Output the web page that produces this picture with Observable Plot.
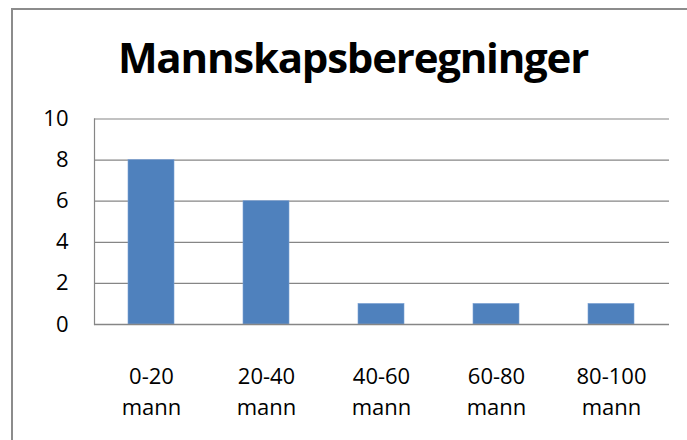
<!DOCTYPE html>
<html>
<head>
<meta charset="utf-8">
<script src="https://cdn.jsdelivr.net/npm/d3@7"></script>
<script src="https://cdn.jsdelivr.net/npm/@observablehq/plot@0.6"></script>
<style>
  html, body { margin: 0; padding: 0; width: 687px; height: 440px; overflow: hidden; background: #fff; }
  #frame { position: absolute; left: 11px; top: 8px; width: 700px; height: 500px; border: 2px solid #8c8c8c; box-sizing: border-box; pointer-events: none; }
  #title { position: absolute; left: 0; top: 36px; width: 706px; text-align: center; font-family: "Open Sans", sans-serif; font-weight: bold; font-size: 42px; line-height: 42px; color: #000; white-space: nowrap; }
  #chart { position: absolute; left: 0; top: 100px; }
</style>
</head>
<body>
<div id="frame"></div>
<div id="title"><span id="ttext">Mannskapsberegninger</span></div>
<div id="chart"></div>
<script>
const title = "Mannskapsberegninger";
const categories = ["0-20\nmann", "20-40\nmann", "40-60\nmann", "60-80\nmann", "80-100\nmann"];
const values = [8, 6, 1, 1, 1];
const yTicks = [0, 2, 4, 6, 8, 10];

const data = categories.map((c, i) => ({category: c, value: values[i]}));

document.getElementById("ttext").textContent = title;
// fit title width to the reference (~470px)
const span = document.getElementById("ttext");
const w = span.getBoundingClientRect().width;
span.style.letterSpacing = ((470 - w) / title.length) + "px";

const chart = Plot.plot({
  width: 687,
  height: 340,
  marginLeft: 94,
  marginRight: 18,
  marginTop: 18.5,
  marginBottom: 116,
  style: {fontFamily: "Open Sans, sans-serif", fontSize: "22px", color: "#000", background: "transparent"},
  x: {domain: categories, paddingInner: 0.6, paddingOuter: 0.3, label: null},
  y: {domain: [0, 10], label: null},
  marks: [
    Plot.gridY(yTicks, {stroke: "#868686", strokeOpacity: 1, strokeWidth: 1.2}),
    Plot.frame({anchor: "left", stroke: "#868686", strokeWidth: 1.2}),
    Plot.barY(data, {x: "category", y: "value", fill: "#4F81BD", stroke: "#7aa0d4", strokeWidth: 0.6}),
    Plot.ruleY([0], {stroke: "#868686", strokeWidth: 1.4}),
    Plot.axisY(yTicks, {tickSize: 0, tickPadding: 26, fontSize: 22, fill: "#000", tickFormat: d => String(d)}),
    Plot.axisX({tickSize: 0, tickPadding: 37, fontSize: 22, fill: "#000", lineHeight: 1.41, tickFormat: d => d})
  ]
});
document.getElementById("chart").appendChild(chart);
</script>
</body>
</html>
